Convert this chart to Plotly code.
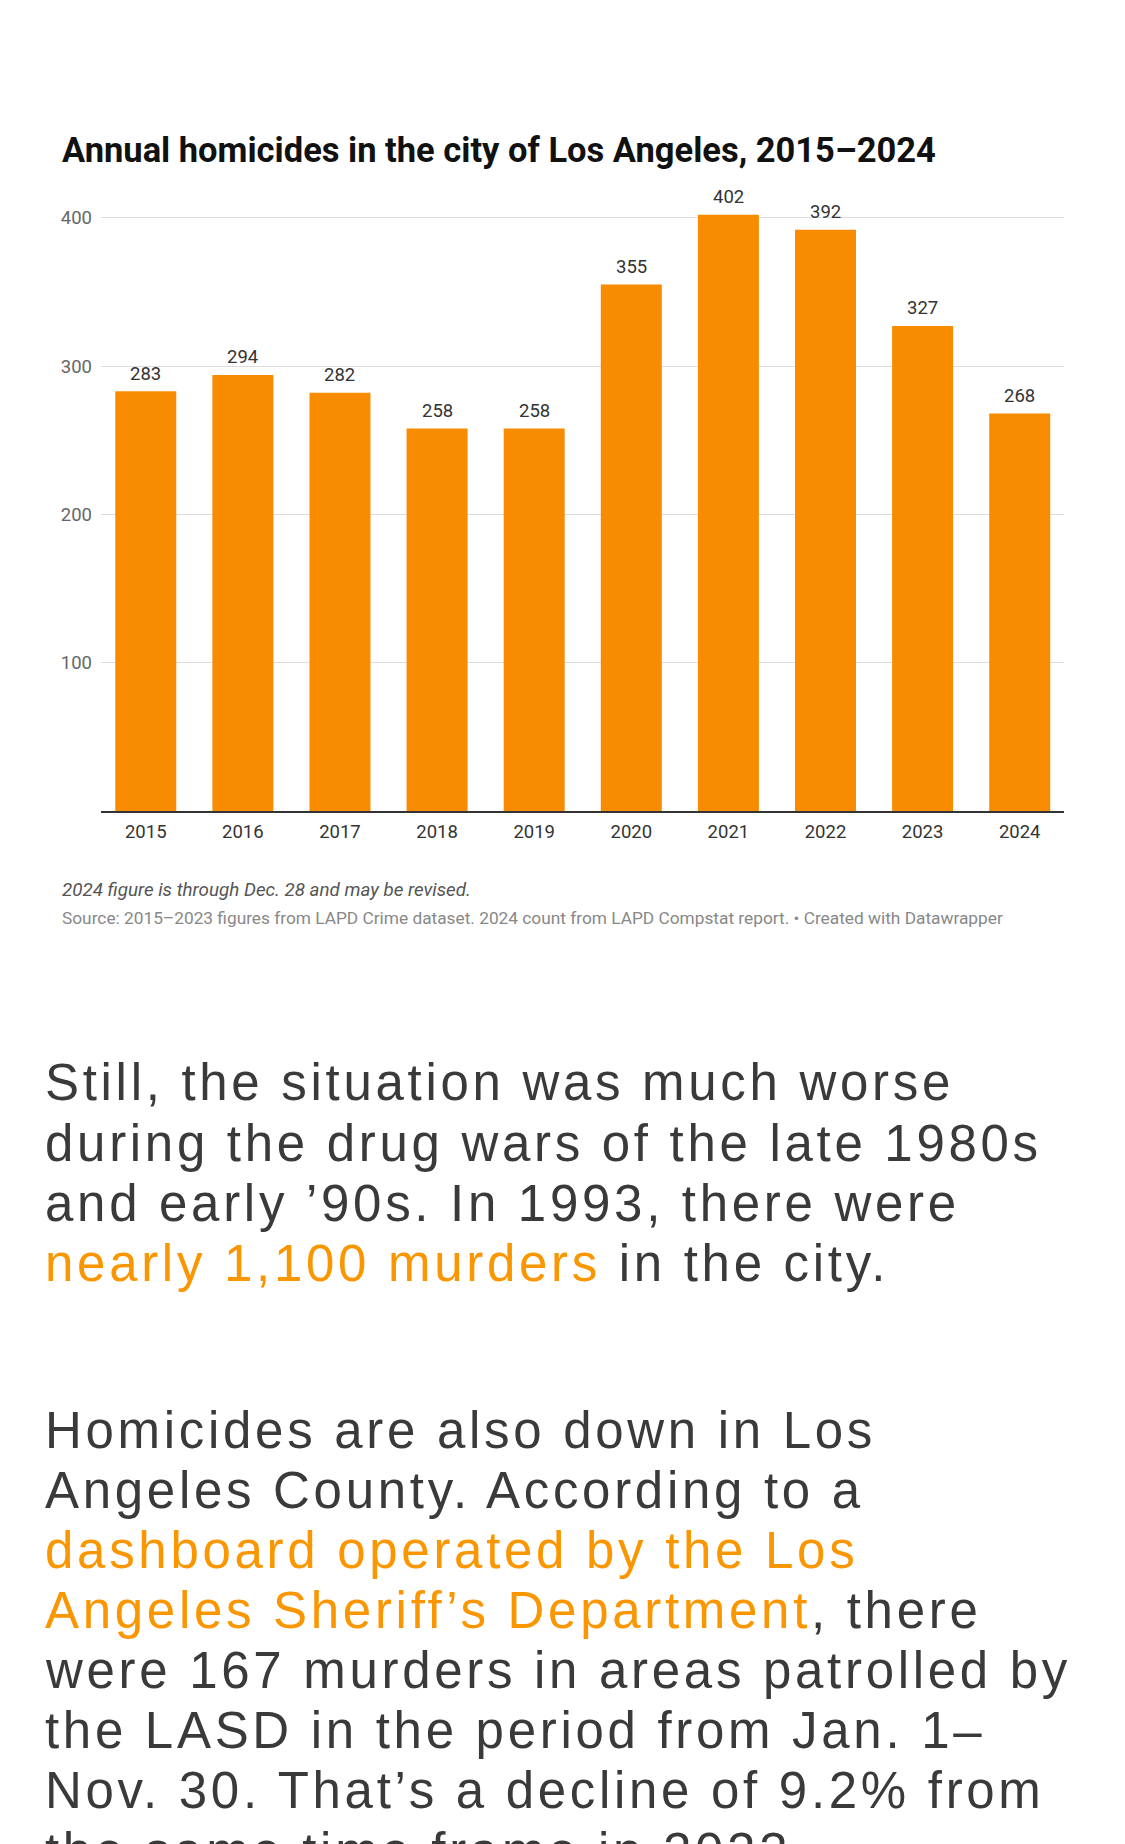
import plotly.graph_objects as go

# ---------------- data ----------------
years = ["2015", "2016", "2017", "2018", "2019", "2020", "2021", "2022", "2023", "2024"]
homicides = [283, 294, 282, 258, 258, 355, 402, 392, 327, 268]
y_tick_values = [100, 200, 300, 400]
y_tick_labels = ["100", "200", "300", "400"]

title_text = "Annual homicides in the city of Los Angeles, 2015–2024"
note_text = "2024 figure is through Dec. 28 and may be revised."
source_text = ("Source: 2015–2023 figures from LAPD Crime dataset. 2024 count from LAPD "
               "Compstat report. • Created with Datawrapper")

GRAY = "#3a3a3a"
ORANGE = "#fa9600"
para1 = [
    [("Still, the situation was much worse", GRAY)],
    [("during the drug wars of the late 1980s", GRAY)],
    [("and early ’90s. In 1993, there were", GRAY)],
    [("nearly 1,100 murders", ORANGE), (" in the city.", GRAY)],
]
para2 = [
    [("Homicides are also down in Los", GRAY)],
    [("Angeles County. According to a", GRAY)],
    [("dashboard operated by the Los", ORANGE)],
    [("Angeles Sheriff’s Department", ORANGE), (", there", GRAY)],
    [("were 167 murders in areas patrolled by", GRAY)],
    [("the LASD in the period from Jan. 1–", GRAY)],
    [("Nov. 30. That’s a decline of 9.2% from", GRAY)],
    [("the same time frame in 2023.", GRAY)],
]

# ---------------- layout geometry ----------------
W, H = 1125, 1844
L, R = 101, 61
T, B = 203, 1033
plot_h = H - T - B
plot_w = W - L - R
Y_TOP = 410
X_RANGE = [-0.461, 9.456]


def paper_y(px):
    return (H - B - px) / plot_h


def paper_x(px):
    return (px - L) / plot_w


BAR_COLOR = "#f78c00"
LABEL_SIZE = 18.5

fig = go.Figure(
    go.Bar(
        x=years,
        y=homicides,
        marker=dict(color=BAR_COLOR, line=dict(width=0)),
        hoverinfo="skip",
        showlegend=False,
    )
)

annotations = []

# value labels above bars (x given as category index)
for i, v in enumerate(homicides):
    annotations.append(dict(
        x=i, y=v, xref="x", yref="y", text=str(v), showarrow=False,
        xanchor="center", yanchor="bottom", yshift=5.6, borderpad=0,
        font=dict(family="Roboto", size=LABEL_SIZE, color="#333333"),
    ))

# title
TITLE_SIZE = 34.5
annotations.append(dict(
    x=paper_x(61), y=paper_y(162.5 + 0.244 * TITLE_SIZE), xref="paper", yref="paper",
    text=title_text, showarrow=False, xanchor="left", yanchor="bottom", borderpad=0,
    font=dict(family="Roboto", size=TITLE_SIZE, color="#111111", weight=700),
))

# notes
NOTE_SIZE = 18.8
SRC_SIZE = 17.3
annotations.append(dict(
    x=paper_x(61), y=paper_y(897.5 + 0.244 * NOTE_SIZE), xref="paper", yref="paper",
    text=note_text, showarrow=False, xanchor="left", yanchor="bottom", borderpad=0,
    font=dict(family="Roboto", size=NOTE_SIZE, color="#555555", style="italic"),
))
annotations.append(dict(
    x=paper_x(61), y=paper_y(924.5 + 0.244 * SRC_SIZE), xref="paper", yref="paper",
    text=source_text, showarrow=False, xanchor="left", yanchor="bottom", borderpad=0,
    font=dict(family="Roboto", size=SRC_SIZE, color="#888888"),
))

# body text
BODY_SIZE = 51
SPACING = "3.7px"


def body_line(parts, baseline):
    html = "".join(
        f'<span style="color:{c};letter-spacing:{SPACING}">{t}</span>' for t, c in parts
    )
    return dict(
        x=paper_x(44), y=paper_y(baseline + 0.212 * BODY_SIZE), xref="paper", yref="paper",
        text=html, showarrow=False, xanchor="left", yanchor="bottom", borderpad=0,
        font=dict(family="Liberation Sans", size=BODY_SIZE, color=GRAY),
    )


for i, parts in enumerate(para1):
    annotations.append(body_line(parts, 1101.5 + i * 60.2))
for i, parts in enumerate(para2):
    annotations.append(body_line(parts, 1449.0 + i * 60.1))

fig.update_layout(
    width=W, height=H,
    margin=dict(l=L, r=R, t=T, b=B, pad=0),
    paper_bgcolor="white", plot_bgcolor="white",
    bargap=0.372,
    annotations=annotations,
    font=dict(family="Roboto"),
    xaxis=dict(
        type="category", range=X_RANGE, autorange=False,
        showgrid=False, zeroline=False,
        showline=True, linecolor="#333333", linewidth=2,
        ticks="", ticklabelstandoff=3,
        tickfont=dict(family="Roboto", size=LABEL_SIZE, color="#333333"),
        fixedrange=True,
    ),
    yaxis=dict(
        range=[0, Y_TOP], autorange=False, tickmode="array",
        tickvals=y_tick_values, ticktext=y_tick_labels,
        showgrid=True, gridcolor="#dcdcdc", gridwidth=1, zeroline=False, showline=False,
        ticks="", ticklabelstandoff=8,
        tickfont=dict(family="Roboto", size=LABEL_SIZE, color="#666666"),
        fixedrange=True,
    ),
)

fig.write_html("out.html", config={"displayModeBar": False},
               post_script="document.body.style.margin='0';")
